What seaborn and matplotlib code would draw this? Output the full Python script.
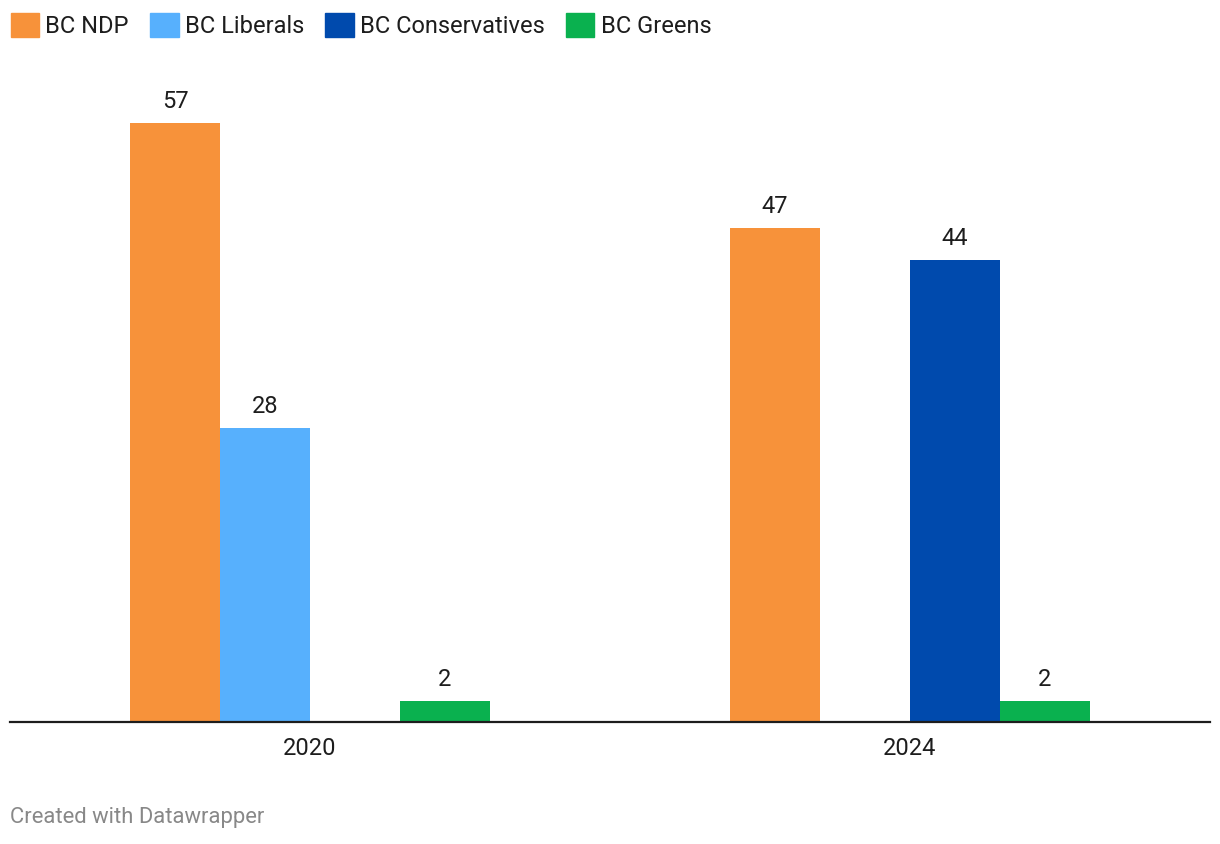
import pandas as pd
import matplotlib.pyplot as plt
import matplotlib.patches as mpatches
import seaborn as sns

# seats won per party, by election year
years = ['2020', '2024']
parties = ['BC NDP', 'BC Liberals', 'BC Conservatives', 'BC Greens']
seats_2020 = [57, 28, 0, 2]
seats_2024 = [47, 0, 44, 2]

colors = ['#F7923A', '#57B0FD', '#004AAD', '#0AB14F']

rows = []
for year, seats in zip(years, [seats_2020, seats_2024]):
    for party, s in zip(parties, seats):
        rows.append({'year': year, 'party': party, 'seats': s})
df = pd.DataFrame(rows)

sns.set_style('white')
plt.rcParams['font.family'] = ['Roboto', 'DejaVu Sans']

fig = plt.figure(figsize=(12.2, 8.44), dpi=100)
W, H = 1220, 844
ax = fig.add_axes([10 / W, (H - 722) / H, 1200 / W, (722 - 123) / H])

sns.barplot(data=df, x='year', y='seats', hue='party', hue_order=parties,
            palette=colors, width=0.6, saturation=1, linewidth=0,
            ax=ax, legend=False)

ax.set_xlim(-0.5, 1.5)
ax.set_ylim(0, 57)

# value labels, skip empty bars
for cont in ax.containers:
    labels = ['' if v == 0 else '%d' % v for v in cont.datavalues]
    ax.bar_label(cont, labels=labels, padding=7, fontsize=17, color='#1d1d1d',
                 clip_on=False)

for side in ['top', 'right', 'left']:
    ax.spines[side].set_visible(False)
ax.spines['bottom'].set_color('#1d1d1d')
ax.spines['bottom'].set_linewidth(1.6)
ax.set_yticks([])
ax.set_xlabel('')
ax.set_ylabel('')
ax.tick_params(axis='x', length=0, pad=11, labelsize=17, labelcolor='#1d1d1d')

handles = [mpatches.Patch(color=c, label=p) for c, p in zip(colors, parties)]
fig.legend(handles=handles, loc='upper left', bbox_to_anchor=(6 / W, 1 - 8 / H),
           ncol=4, frameon=False, fontsize=17, handlelength=1.2, handleheight=1.2,
           handletextpad=0.27, columnspacing=0.9, borderaxespad=0, borderpad=0.2,
           labelcolor='#1d1d1d')

fig.text(10 / W, 1 - 818 / H, 'Created with Datawrapper', fontsize=15.8,
         color='#888888', va='center', ha='left')

fig.savefig('out.png', dpi=100)
